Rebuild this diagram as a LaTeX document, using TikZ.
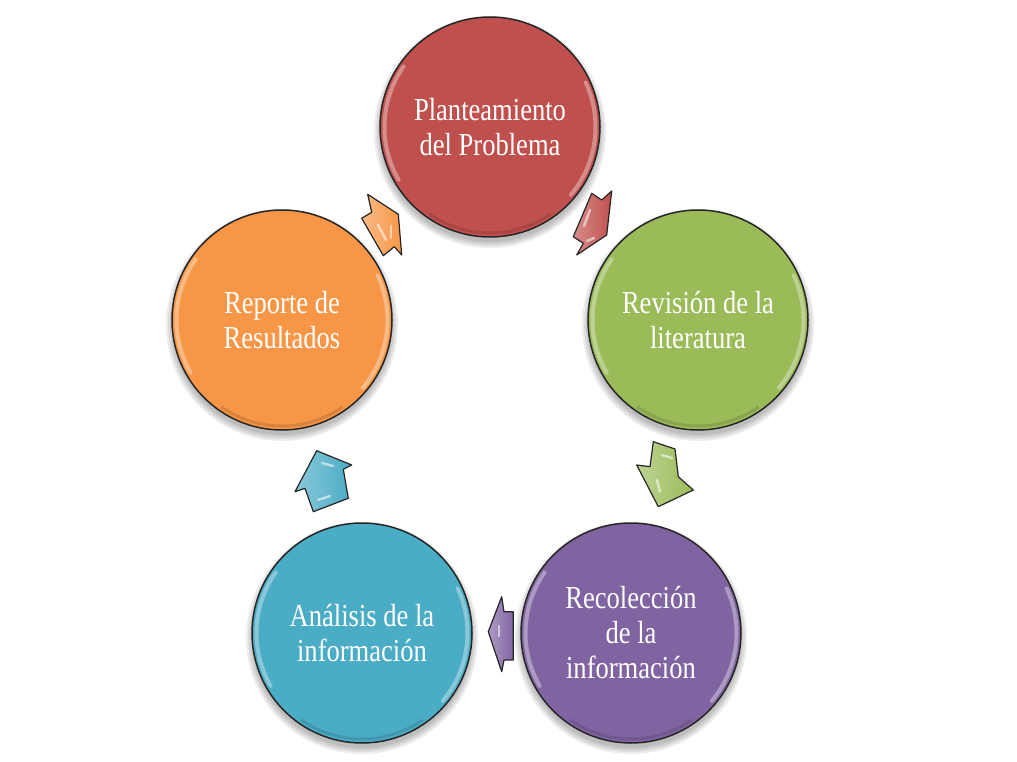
\documentclass[tikz,border=0pt]{standalone}
\usepackage{fontspec}
\newfontfamily\labelfont[FakeStretch=0.83]{Liberation Serif}
\usetikzlibrary{calc}
\definecolor{cred}{HTML}{C0504D}
\definecolor{cgreen}{HTML}{9BBB59}
\definecolor{cpurple}{HTML}{8064A2}
\definecolor{cteal}{HTML}{4BACC6}
\definecolor{corange}{HTML}{F79646}
\newcommand\ballshade[1]{%
  \foreach \rr in {116,114,112,110}{\fill[black,opacity=0.07] ($(#1)+(0,5)$) circle (\rr);}}
\newcommand\ballrim[1]{%
  \draw[white,opacity=0.35,line width=4pt,line cap=round] ($(#1)+(150:105.5)$) arc[start angle=150,end angle=215,radius=105.5];
  \draw[white,opacity=0.35,line width=4pt,line cap=round] ($(#1)+(-25:105.5)$) arc[start angle=-25,end angle=40,radius=105.5];
  \draw[black,opacity=0.12,line width=3pt] ($(#1)+(55:106)$) arc[start angle=55,end angle=125,radius=106];}
\begin{document}
\begin{tikzpicture}[x=1pt,y=-1pt,
  ball/.style={circle,minimum size=220pt,inner sep=0pt,fill=#1,draw=black!85,line width=1.5pt,
    text=white,font=\labelfont\fontsize{32}{35}\selectfont,align=center},
  blockarrow/.style={draw=black!85,line width=1.2pt,line join=round,left color=#1!65!white,right color=#1},
  glint/.style={white,opacity=0.55,line width=2.5pt,line cap=round}]
\useasboundingbox (0,0) rectangle (1017,762);
\fill[white] (0,0) rectangle (1017,762);
\coordinate (pR) at (490,127);
\coordinate (pG) at (698,320);
\coordinate (pP) at (631,633);
\coordinate (pT) at (362,633);
\coordinate (pO) at (282,320);
\ballshade{pR}\ballshade{pG}\ballshade{pP}\ballshade{pT}\ballshade{pO}
\node[ball=cred] (plant) at (pR) {Planteamiento\\del Problema};
\node[ball=cgreen] (revis) at (pG) {Revisión de la\\literatura};
\node[ball=cpurple] (recol) at (pP) {Recolección\\de la\\información};
\node[ball=cteal] (anal) at (pT) {Análisis de la\\información};
\node[ball=corange] (repor) at (pO) {Reporte de\\Resultados};
\ballrim{pR}\ballrim{pG}\ballrim{pP}\ballrim{pT}\ballrim{pO}
% block arrows
\draw[blockarrow=corange] (367.7,194.3) -- (398.3,214.3) -- (401.7,255) -- (394.3,246.7)
  -- (383.3,255.7) -- (361.7,218.3) -- (371.7,212.3) -- cycle;
\draw[glint] (378,225) -- (386,240); \draw[glint] (391,226) -- (391,238);
\draw[blockarrow=cred] (591.7,193.3) -- (601.7,200) -- (611.7,191) -- (606.7,235)
  -- (576.7,255) -- (583.3,243.3) -- (573.3,236.7) -- cycle;
\draw[glint] (587,241) -- (594,238); \draw[glint] (590,210) -- (584,226);
\draw[blockarrow=cgreen] (653.3,441.7) -- (675,449) -- (678.3,476.7) -- (693.3,490)
  -- (658.3,506.7) -- (636.7,465) -- (650,466.7) -- cycle;
\draw[glint] (662,455) -- (672,458); \draw[glint] (657,480) -- (660,492);
\draw[blockarrow=cpurple] (513.3,611.7) -- (513.3,660) -- (504,660) -- (501.7,671.7)
  -- (488.3,631.7) -- (501.7,596.7) -- (504,611.7) -- cycle;
\draw[glint] (499,626) -- (499,636);
\draw[blockarrow=cteal] (316.7,450.7) -- (351.7,465) -- (343.3,469.3) -- (348.3,498.3)
  -- (313.3,511.7) -- (305,488.3) -- (295,491.7) -- cycle;
\draw[glint] (322,463) -- (333,466); \draw[glint] (318,500) -- (330,496);
\end{tikzpicture}
\end{document}
